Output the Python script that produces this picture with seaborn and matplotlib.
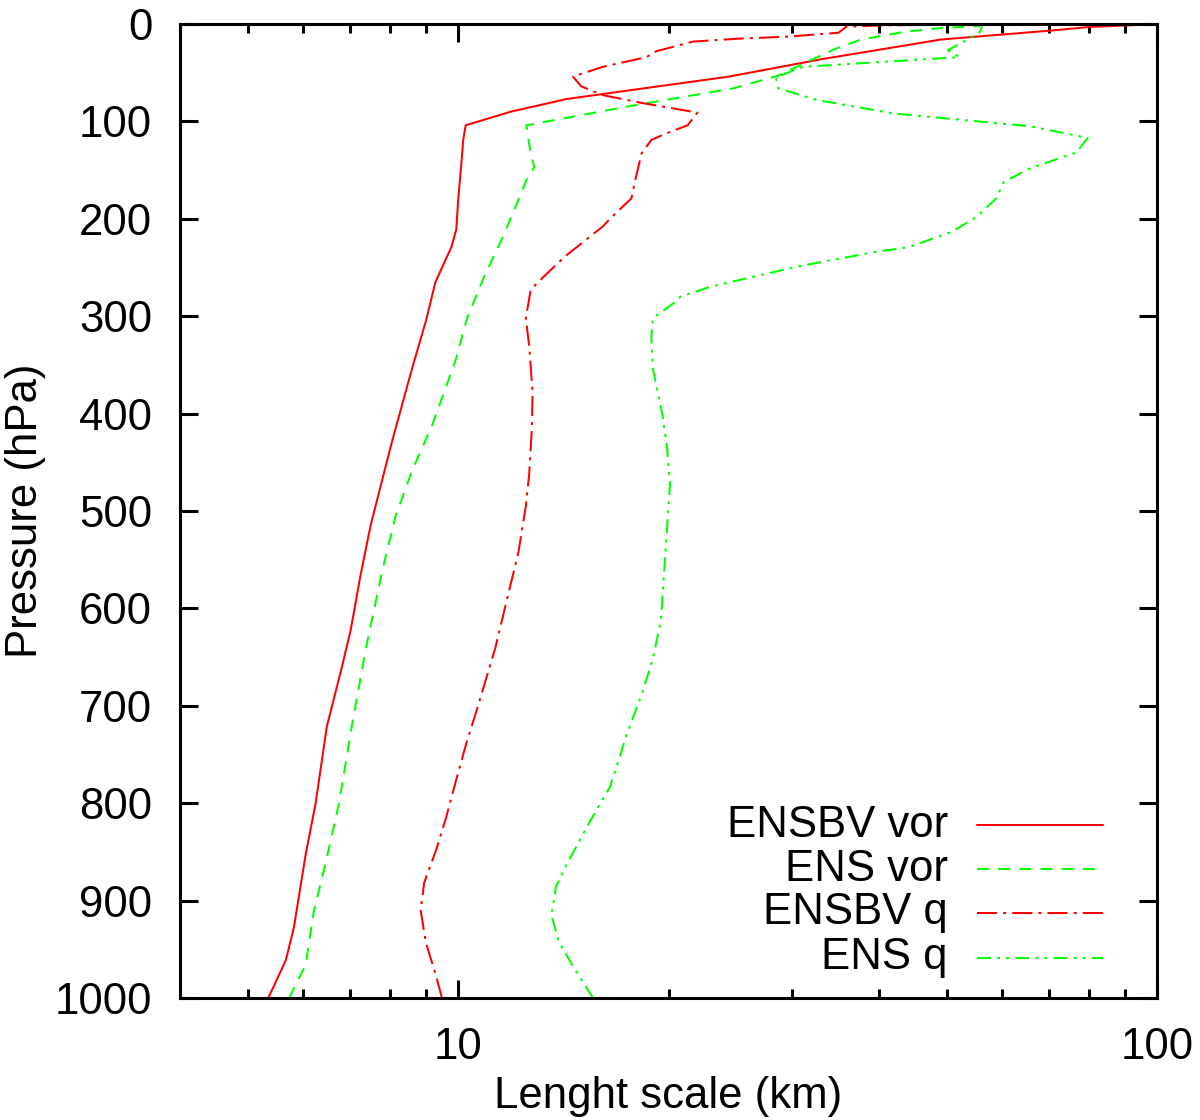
import matplotlib
matplotlib.use("Agg")
import matplotlib.pyplot as plt
import pandas as pd
import seaborn as sns
from matplotlib.ticker import FixedLocator, NullFormatter

# 各序列：气压 (hPa) 与长度尺度 (km)，自下而上
ensbv_vor_p = [1000, 961, 928, 853, 801, 721, 660, 622, 566, 514, 429, 354, 304, 265,
               229, 211, 181, 146, 119, 104, 90, 77, 54, 36, 23, 16, 11, 7, 3, 1]
ensbv_vor_l = [5.35, 5.67, 5.82, 6.05, 6.25, 6.49, 6.82, 7.02, 7.25, 7.50, 8.04, 8.59, 9.0, 9.28,
               9.78, 9.94, 10.0, 10.1, 10.17, 10.25, 11.9, 14.3, 24.4, 33.2, 42.8, 49.0, 59.6, 69.8, 80.2, 93.5]

ens_vor_p = [1000, 966, 910, 862, 801, 717, 641, 561, 505, 458, 411, 345, 302, 259, 218,
             188, 157, 147, 133, 104, 84, 66, 53, 37, 25, 16, 8, 4, 2]
ens_vor_l = [5.73, 6.05, 6.22, 6.46, 6.75, 7.06, 7.38, 7.79, 8.14, 8.60, 9.19, 9.92, 10.3, 10.9, 11.6,
             12.08, 12.58, 12.85, 12.7, 12.52, 17.7, 24.8, 28.7, 32.0, 34.8, 37.7, 43.5, 49.4, 55.8]

ensbv_q_p = [1000, 976, 943, 910, 882, 849, 816, 778, 740, 698, 641, 585, 542, 495, 462, 415,
             378, 331, 302, 273, 263, 239, 208, 198, 179, 162, 133, 119, 112, 104, 91, 81, 73,
             64, 54, 44, 34, 28, 18, 15, 13, 9, 3, 1.5, 1]
ensbv_q_l = [9.48, 9.29, 8.99, 8.84, 8.94, 9.29, 9.60, 9.92, 10.26, 10.7, 11.3, 11.8, 12.2, 12.5, 12.64, 12.75,
             12.78, 12.64, 12.5, 12.7, 13.1, 14.2, 16.1, 16.6, 17.7, 17.9, 18.3, 18.9, 19.9, 21.3, 22.0, 18.3, 16.1,
             15.0, 14.6, 16.1, 18.6, 19.2, 21.7, 25.3, 29.6, 35.0, 35.9, 40.0, 45.7]

ens_q_p = [1000, 971, 943, 915, 886, 863, 820, 783, 731, 684, 651, 613, 566, 519, 472, 434,
           401, 354, 321, 302, 286, 280, 270, 263, 249, 234, 229, 213, 198, 179, 162, 148,
           132, 117, 105, 92, 78, 66, 55, 44, 34, 27, 9, 2]
ens_q_l = [15.6, 14.7, 13.95, 13.6, 13.8, 14.3, 15.4, 16.5, 17.4, 18.4, 19.0, 19.5, 19.7, 19.9, 20.1, 19.9,
           19.6, 19.0, 18.9, 19.0, 20.4, 20.8, 22.9, 25.2, 30.6, 39.5, 44.2, 51.0, 55.2, 58.9, 60.4, 65.9,
           76.6, 79.6, 65.9, 42.1, 32.6, 28.7, 28.5, 31.1, 52.2, 50.2, 55.7, 56.2]

labels = ['ENSBV vor', 'ENS vor', 'ENSBV q', 'ENS q']
colors = ['#ff0000', '#00ff00', '#ff0000', '#00ff00']
styles = ['-', (0, (6, 4.5)), (0, (10, 3, 1.5, 3)), (0, (7, 3, 1.5, 3, 1.5, 3))]

y_ticks = list(range(0, 1001, 100))
x_major = [10, 100]
x_minor = [5, 6, 7, 8, 9, 20, 30, 40, 50, 60, 70, 80, 90]

sns.set_style("ticks")
plt.rcParams['font.family'] = ['Liberation Sans', 'DejaVu Sans']
plt.rcParams['text.color'] = 'black'
plt.rcParams['axes.labelcolor'] = 'black'
plt.rcParams['xtick.color'] = 'black'
plt.rcParams['ytick.color'] = 'black'

fs = 31.5
fig = plt.figure(figsize=(12, 11.2), dpi=100)
ax = fig.add_axes([0.15, 0.10893, 0.81417, 0.86964])

series = [(ensbv_vor_l, ensbv_vor_p), (ens_vor_l, ens_vor_p),
          (ensbv_q_l, ensbv_q_p), (ens_q_l, ens_q_p)]
lw = 1.45
for (l, p), c, ls in zip(series, colors, styles):
    df = pd.DataFrame({'L': l, 'P': p})
    sns.lineplot(data=df, x='L', y='P', estimator=None, sort=False,
                 color=c, linewidth=lw, linestyle=ls, ax=ax)

ax.set_xscale('log')
ax.set_xlim(4, 100)
ax.set_ylim(1000, 0)
ax.xaxis.set_major_locator(FixedLocator(x_major))
ax.xaxis.set_minor_locator(FixedLocator(x_minor))
ax.xaxis.set_minor_formatter(NullFormatter())
ax.set_xticklabels([str(v) for v in x_major])
ax.set_yticks(y_ticks)

for s in ax.spines.values():
    s.set_linewidth(2.2)
    s.set_color('black')
ax.tick_params(which='both', direction='in', top=True, right=True, width=2.2, color='black')
ax.tick_params(which='major', length=13, labelsize=fs, labelcolor='black')
ax.tick_params(which='minor', length=6.5)
ax.tick_params(axis='y', which='major', pad=20)
ax.tick_params(axis='x', which='major', pad=21)

ax.set_xlabel('Lenght scale (km)', fontsize=fs, labelpad=6, color='black')
ax.set_ylabel('Pressure (hPa)', fontsize=fs, labelpad=6, color='black')

# 图例：文字右对齐，线样本在右侧
leg_y = [0.1776, 0.1324, 0.0873, 0.0411]
for lab, c, ls, yy in zip(labels, colors, styles, leg_y):
    ax.text(0.786, yy, lab, transform=ax.transAxes, ha='right', va='center', fontsize=fs, color='black')
    ax.plot([0.8157, 0.9447], [yy, yy], transform=ax.transAxes, color=c, linewidth=lw, linestyle=ls)

fig.savefig('out.png', dpi=100)
